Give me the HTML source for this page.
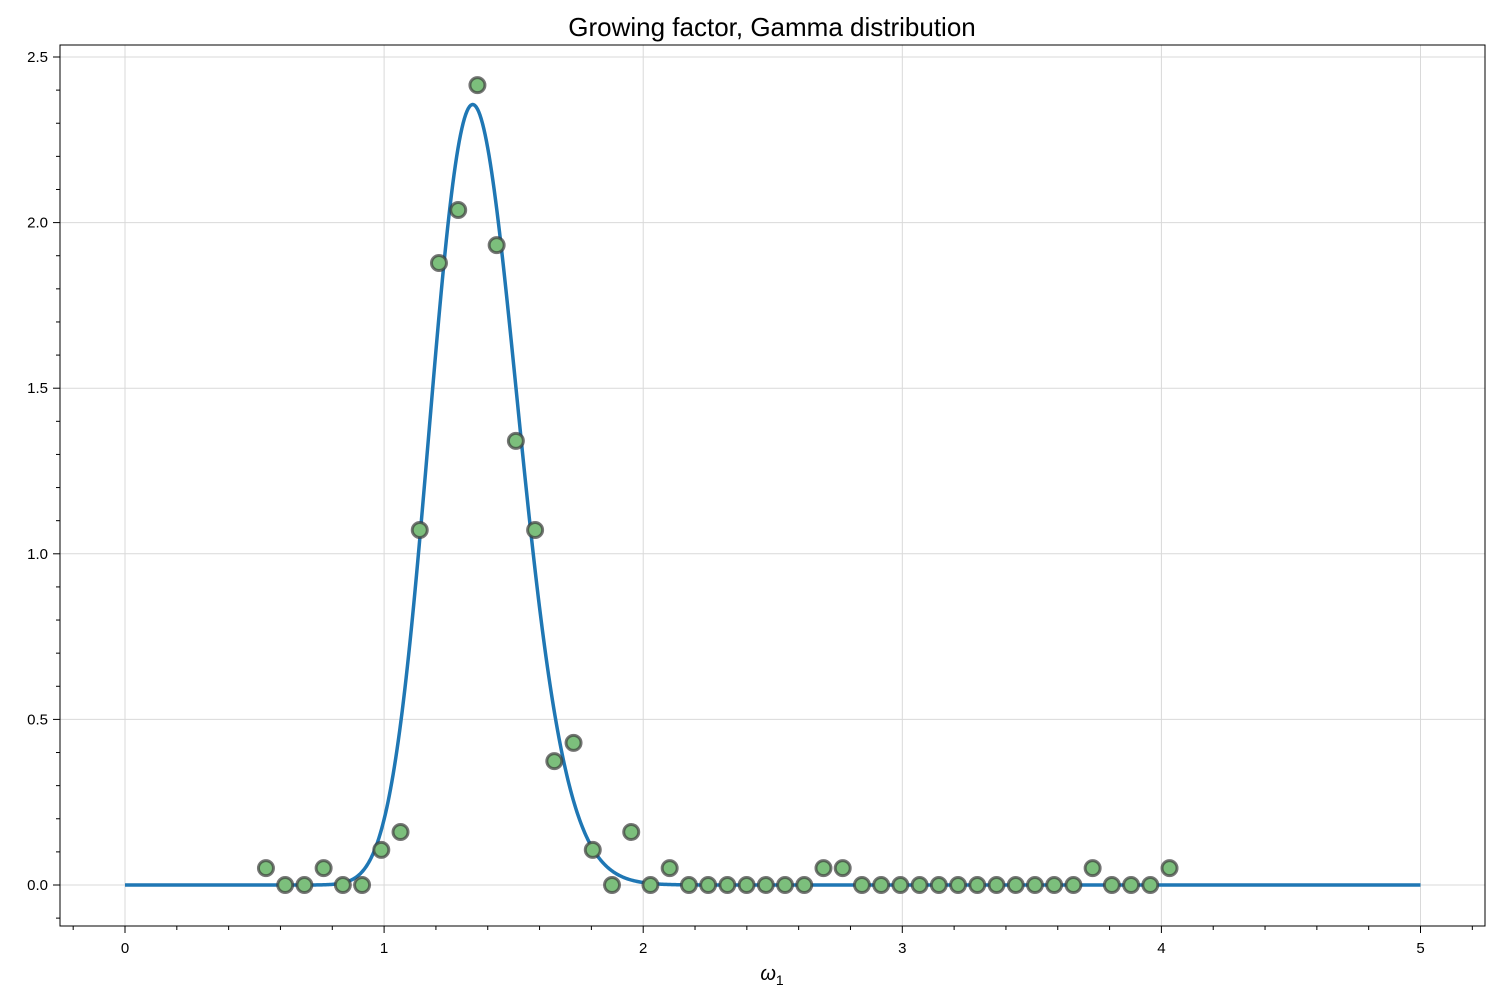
<!DOCTYPE html>
<html><head><meta charset="utf-8"><style>
html,body{margin:0;padding:0;background:#fff;}
svg{display:block;font-family:"Liberation Sans","DejaVu Sans",sans-serif;}
</style></head><body>
<svg id="chart" width="1500" height="1000">
<rect x="0" y="0" width="1500" height="1000" fill="#fff"/>
<text x="772" y="36" text-anchor="middle" font-size="26" fill="#000">Growing factor, Gamma distribution</text>
<g id="grid"></g>
<g id="curve"></g>
<g id="points"></g>
<g id="axes"></g>
<text x="772" y="980" text-anchor="middle" font-size="20" font-style="italic" fill="#000">ω<tspan font-size="14" dy="5" font-style="normal">1</tspan></text>
</svg>
<script>
const pointX0 = 0.544;
const pointDx = 0.0742;
const pointValues = [0.051,0,0,0.051,0,0,0.106,0.16,1.072,1.878,2.038,2.415,1.932,1.341,1.072,0.374,0.429,0.106,0,0.16,0,0.051,0,0,0,0,0,0,0,0.051,0.051,0,0,0,0,0,0,0,0,0,0,0,0,0.051,0,0,0,0.051];
const gammaShape = [64];
const gammaScale = [0.0213];
const curveRange = [0, 5];
const xTicks = [0,1,2,3,4,5];
const yTicks = [0,0.5,1.0,1.5,2.0,2.5];
const yTickLabels = ["0.0","0.5","1.0","1.5","2.0","2.5"];
const xMinorTicks = [-0.2,0.2,0.4,0.6,0.8,1.2,1.4,1.6,1.8,2.2,2.4,2.6,2.8,3.2,3.4,3.6,3.8,4.2,4.4,4.6,4.8,5.2];
const yMinorTicks = [-0.1,0.1,0.2,0.3,0.4,0.6,0.7,0.8,0.9,1.1,1.2,1.3,1.4,1.6,1.7,1.8,1.9,2.1,2.2,2.3,2.4];

const L=60,R=1485,T=45,B=926;
function sx(v){return 125+v*259.1;}
function sy(v){return 885-v*331.2;}
const NS="http://www.w3.org/2000/svg";
function mk(tag,attrs,parent){const e=document.createElementNS(NS,tag);for(const k in attrs)e.setAttribute(k,attrs[k]);parent.appendChild(e);return e;}
const grid=document.getElementById('grid'),axes=document.getElementById('axes'),cg=document.getElementById('curve'),pg=document.getElementById('points');

xTicks.forEach(t=>{
  const l=mk('line',{x1:sx(t),x2:sx(t),y1:T,y2:B,stroke:'#d9d9d9','stroke-width':1},grid);
  
  
  mk('line',{x1:sx(t),x2:sx(t),y1:B,y2:B+7,stroke:'#000','stroke-width':1},axes);
  const tx=mk('text',{x:sx(t),y:B+27,'text-anchor':'middle','font-size':15,fill:'#000'},axes);
  tx.textContent=t;
  
  
});
yTicks.forEach((t,i)=>{
  const l=mk('line',{x1:L,x2:R,y1:sy(t),y2:sy(t),stroke:'#d9d9d9','stroke-width':1},grid);
  
  
  mk('line',{x1:L-7,x2:L,y1:sy(t),y2:sy(t),stroke:'#000','stroke-width':1},axes);
  const tx=mk('text',{x:L-12,y:sy(t)+5,'text-anchor':'end','font-size':15,fill:'#000'},axes);
  tx.textContent=yTickLabels[i];
  
  
});
xMinorTicks.forEach(t=>mk('line',{x1:sx(t),x2:sx(t),y1:B,y2:B+4,stroke:'#000','stroke-width':1},axes));
yMinorTicks.forEach(t=>mk('line',{x1:L-4,x2:L,y1:sy(t),y2:sy(t),stroke:'#000','stroke-width':1},axes));
const frame=mk('rect',{x:L,y:T,width:R-L,height:B-T,fill:'none',stroke:'#000','stroke-width':1},axes);



function lnGamma(z){
  let s=0; while(z<7){s-=Math.log(z);z+=1;}
  return s+(z-0.5)*Math.log(z)-z+0.5*Math.log(2*Math.PI)+1/(12*z)-1/(360*z*z*z);
}
function pdf(x){const k=gammaShape[0],th=gammaScale[0];if(x<=0)return 0;
  return Math.exp((k-1)*Math.log(x)-x/th-k*Math.log(th)-lnGamma(k));}
let d='';
for(let i=0;i<=1000;i++){const x=curveRange[0]+(curveRange[1]-curveRange[0])*i/1000;d+=(i?'L':'M')+sx(x).toFixed(2)+','+sy(pdf(x)).toFixed(2);}
const path=mk('path',{d:d,fill:'none',stroke:'#1f77b4','stroke-width':3.5,'stroke-linejoin':'round'},cg);



pointValues.forEach((v,i)=>{
  const c=mk('circle',{cx:sx(pointX0+i*pointDx),cy:sy(v),r:7.5,fill:'#7cbf7c',stroke:'rgba(60,60,60,0.7)','stroke-width':3},pg);
  
  
});
</script>
</body></html>
